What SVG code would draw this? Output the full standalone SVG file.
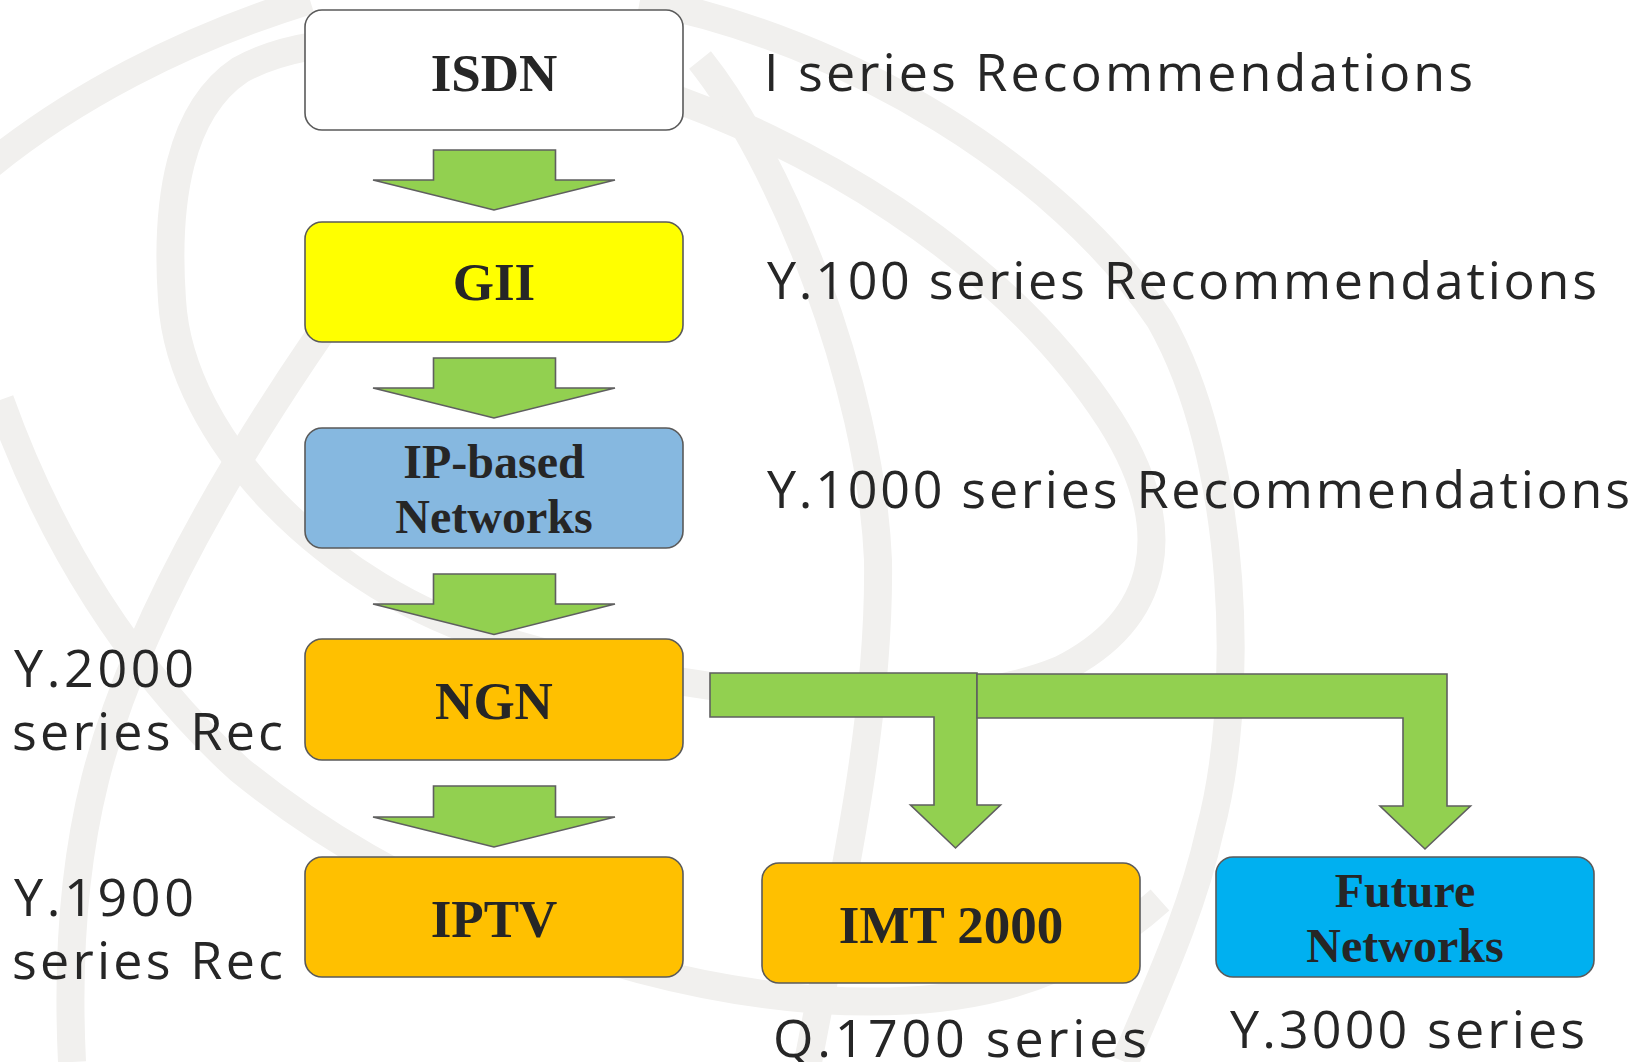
<svg xmlns="http://www.w3.org/2000/svg" width="1635" height="1062" viewBox="0 0 1635 1062">
  <style>
    .bg { fill: none; stroke: #F1F0EE; stroke-width: 28; stroke-linecap: butt; }
    .box { stroke: #5A5A5A; stroke-width: 1.6; }
    .arrow { fill: #92D050; stroke: #5F5F5F; stroke-width: 1.6; stroke-linejoin: miter; }
    .ntext { font-family: "Liberation Serif", "Times New Roman", serif; font-weight: bold; fill: #262626; text-anchor: middle; }
    .lbl { font-family: "Open Sans", "Noto Sans", sans-serif; font-weight: 400; font-size: 52px; fill: #262626; }
  </style>
  <rect x="0" y="0" width="1635" height="1062" fill="#FFFFFF"/>
  <g id="background">
    <path class="bg" d="M -10 165 C 70 100, 180 40, 310 0"/>
    <path class="bg" d="M 172 300 C 165 200, 180 110, 240 70 C 330 20, 500 40, 650 90 C 800 140, 1000 250, 1110 420 C 1180 530, 1160 620, 1060 670 C 940 720, 700 700, 500 640 C 330 590, 180 440, 172 300 Z"/>
    <path class="bg" d="M 640 0 C 850 40, 1060 170, 1160 320 C 1240 460, 1245 700, 1210 830 C 1190 920, 1150 1000, 1125 1062"/>
    <path class="bg" d="M 0 400 C 50 540, 130 670, 240 770 C 400 900, 620 985, 820 1000 C 950 1008, 1060 990, 1160 900"/>
    <path class="bg" d="M 380 250 C 270 400, 140 600, 95 780 C 70 880, 68 980, 72 1062"/>
    <path class="bg" d="M 700 60 C 780 160, 870 380, 878 560 C 880 700, 850 850, 820 1000 L 808 1062"/>
  </g>
  <g id="connectors">
    <polygon class="arrow" points="433.5,150 555.5,150 555.5,180 615,180 494,210 373,180 433.5,180"/>
    <polygon class="arrow" points="433.5,358 555.5,358 555.5,388 615,388 494,418 373,388 433.5,388"/>
    <polygon class="arrow" points="433.5,574 555.5,574 555.5,604 615,604 494,634.5 373,604 433.5,604"/>
    <polygon class="arrow" points="433.5,786 555.5,786 555.5,817 615,817 494,847 373,817 433.5,817"/>
    <polygon class="arrow" points="710,673 977,673 977,805 1000.5,805 955.5,848 910.5,805 934,805 934,717 710,717"/>
    <polygon class="arrow" points="977,674 1447,674 1447,806 1470.5,806 1425,849 1380,806 1403,806 1403,718 977,718"/>
  </g>
  <g id="node-isdn">
    <rect class="box" x="305" y="10" width="378" height="120" rx="17" fill="#FFFFFF"/>
    <text class="ntext" x="494" y="91" font-size="53">ISDN</text>
  </g>
  <g id="node-gii">
    <rect class="box" x="305" y="222" width="378" height="120" rx="17" fill="#FFFF00"/>
    <text class="ntext" x="494" y="300" font-size="53">GII</text>
  </g>
  <g id="node-ip">
    <rect class="box" x="305" y="428" width="378" height="120" rx="17" fill="#86B8E0"/>
    <text class="ntext" x="494" y="478" font-size="48">IP-based</text>
    <text class="ntext" x="494" y="533" font-size="48">Networks</text>
  </g>
  <g id="node-ngn">
    <rect class="box" x="305" y="639" width="378" height="121" rx="17" fill="#FFC000"/>
    <text class="ntext" x="494" y="719" font-size="53">NGN</text>
  </g>
  <g id="node-iptv">
    <rect class="box" x="305" y="857" width="378" height="120" rx="17" fill="#FFC000"/>
    <text class="ntext" x="494" y="937" font-size="53">IPTV</text>
  </g>
  <g id="node-imt">
    <rect class="box" x="762" y="863" width="378" height="120" rx="17" fill="#FFC000"/>
    <text class="ntext" x="951" y="943" font-size="53">IMT 2000</text>
  </g>
  <g id="node-future">
    <rect class="box" x="1216" y="857" width="378" height="120" rx="17" fill="#00B0F0"/>
    <text class="ntext" x="1405" y="907" font-size="48">Future</text>
    <text class="ntext" x="1405" y="962" font-size="48">Networks</text>
  </g>
  <g id="labels">
    <text class="lbl" x="764" y="91" textLength="709" lengthAdjust="spacing">I series Recommendations</text>
    <text class="lbl" x="767" y="299" textLength="830" lengthAdjust="spacing">Y.100 series Recommendations</text>
    <text class="lbl" x="767" y="508" textLength="863" lengthAdjust="spacing">Y.1000 series Recommendations</text>
    <text class="lbl" x="14" y="687" textLength="180" lengthAdjust="spacing">Y.2000</text>
    <text class="lbl" x="12" y="750" textLength="271" lengthAdjust="spacing">series Rec</text>
    <text class="lbl" x="14" y="916" textLength="180" lengthAdjust="spacing">Y.1900</text>
    <text class="lbl" x="12" y="979" textLength="271" lengthAdjust="spacing">series Rec</text>
    <text class="lbl" x="773" y="1057" textLength="374" lengthAdjust="spacing">Q.1700 series</text>
    <text class="lbl" x="1230" y="1048" textLength="355" lengthAdjust="spacing">Y.3000 series</text>
  </g>
</svg>
